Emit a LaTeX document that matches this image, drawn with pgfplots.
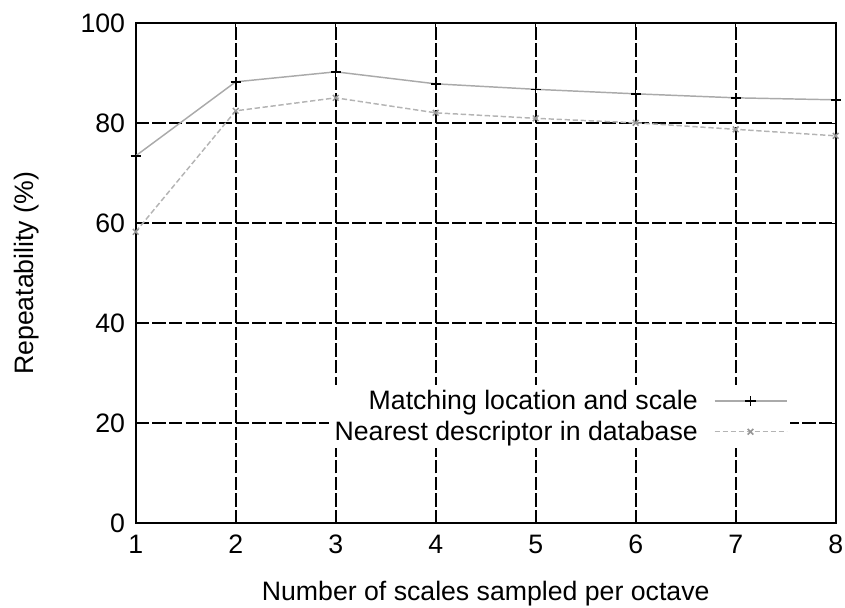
\documentclass[border=0pt]{standalone}
\usepackage{fontspec}
\setmainfont{Liberation Sans}
\usepackage{pgfplots}
\pgfplotsset{compat=1.18}
\begin{document}
\begin{tikzpicture}
\useasboundingbox (-101.8pt,-63.5pt) rectangle (532pt,392.5pt);
\begin{axis}[
  at={(0pt,0pt)}, anchor=south west,
  scale only axis,
  width=525pt, height=375pt,
  xmin=1, xmax=8, ymin=0, ymax=100,
  xtick={1,2,...,8}, ytick={0,20,...,100},
  /pgf/number format/assume math mode=true,
  font=\fontsize{20}{24}\selectfont,
  tick label style={font=\fontsize{20}{24}\selectfont},
  label style={font=\fontsize{20}{24}\selectfont},
  axis line style={black, line width=1.3pt},
  tick style={black, line width=0.8pt},
  major tick length=6pt,
  grid=major,
  major grid style={black, line width=1.6pt, dash pattern=on 10pt off 2.5pt},
  xlabel={Number of scales sampled per octave},
  ylabel={Repeatability (\%)},
  xlabel style={at={(axis description cs:0.5,-0.141)}, anchor=center},
  ylabel style={at={(axis description cs:-0.156,0.5)}, anchor=center},
  xticklabel style={yshift=-5.5pt},
  yticklabel style={xshift=-4.5pt},
  legend style={draw=none, fill=white, at={(rel axis cs:0.935,0.277)}, anchor=north east,
    font=\fontsize{20}{24}\selectfont, row sep=3pt, inner sep=2pt, column sep=10pt},
  legend cell align=right,
  legend plot pos=right,
  legend image code/.code={\draw[#1,mark repeat=2,mark phase=2] plot coordinates {(0pt,0pt)(27pt,0pt)(54pt,0pt)};},
]
\addplot[color={rgb,255:red,170;green,170;blue,170}, line width=1.1pt, mark=+, mark size=3.8pt,
  mark options={black, solid, line width=1.1pt}]
  coordinates {(1,73.5)(2,88.3)(3,90.3)(4,87.9)(5,86.8)(6,85.9)(7,85.1)(8,84.7)};
\addlegendentry{Matching location and scale}
\addplot[color={rgb,255:red,180;green,180;blue,180}, line width=1.1pt, dash pattern=on 4pt off 2pt, mark=x, mark size=3pt,
  mark options={color={rgb,255:red,150;green,150;blue,150}, solid, line width=1.1pt}]
  coordinates {(1,58.3)(2,82.5)(3,85.1)(4,82.1)(5,81.0)(6,80.1)(7,78.8)(8,77.5)};
\addlegendentry{Nearest descriptor in database}
\end{axis}
\end{tikzpicture}
\end{document}
